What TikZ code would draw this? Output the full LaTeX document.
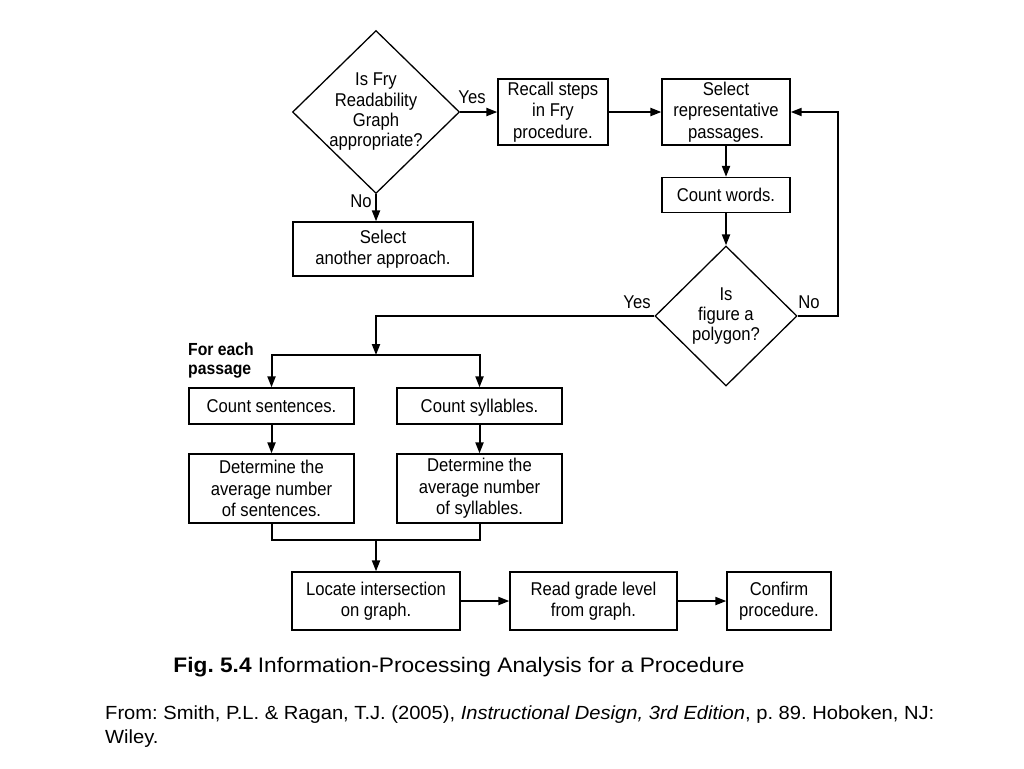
\documentclass[tikz,border=0pt]{standalone}
\usepackage{fontspec}
\setmainfont{Liberation Sans}
\newfontfamily\diag[FakeStretch=0.9]{Liberation Sans}
\newfontfamily\capfont[FakeStretch=1.08]{Liberation Sans}
\newfontfamily\srcfont[FakeStretch=1.06]{Liberation Sans}
\usetikzlibrary{arrows.meta,shapes.geometric}
\begin{document}
\frenchspacing
\begin{tikzpicture}[x=1pt,y=-1pt,
  txt/.style={font=\diag\fontsize{18.5}{21.5}\selectfont, align=center},
  box/.style={txt, draw, line width=1.3pt, inner sep=0pt},
  onel/.style={text height=15.5pt, text depth=2.5pt},
  dia/.style={txt, font=\diag\fontsize{18.5}{20.3}\selectfont, draw, line width=1.3pt, diamond, inner sep=-6pt},
  conn/.style={line width=2pt},
  arr/.style={conn, -{Triangle[length=11pt,width=8pt]}},
  lbl/.style={txt, inner sep=1pt}]
\useasboundingbox (0,0) rectangle (1024,768);
\fill[white] (0,0) rectangle (1024,768);

\node[dia, minimum width=167pt, minimum height=163pt] (d1) at (376,112) {Is Fry\\Readability\\Graph\\appropriate?};
\node[box, minimum width=110pt, minimum height=66pt] (recall) at (553,112) {Recall steps\\in Fry\\procedure.};
\node[box, minimum width=128pt, minimum height=66pt] (select) at (726,112) {Select\\representative\\passages.};
\node[box, onel, minimum width=128pt, minimum height=35pt] (count) at (726,195) {Count words.};
\node[dia, minimum width=142pt, minimum height=140pt] (d2) at (726,316) {Is\\figure a\\polygon?};
\node[box, minimum width=180pt, minimum height=54pt] (another) at (383,249) {Select\\another approach.};
\node[box, onel, minimum width=165pt, minimum height=36pt] (csent) at (271.5,406) {Count sentences.};
\node[box, onel, minimum width=165pt, minimum height=36pt] (csyl) at (479.5,406) {Count syllables.};
\node[box, minimum width=165pt, minimum height=69pt] (dsent) at (271.5,488.5) {Determine the\\average number\\of sentences.};
\node[box, minimum width=165pt, minimum height=69pt] (dsyl) at (479.5,488.5) {Determine the\\average number\\of syllables.};
\node[box, minimum width=168pt, minimum height=58pt] (locate) at (376,601) {Locate intersection\\on graph.};
\node[box, minimum width=167pt, minimum height=58pt] (read) at (593.5,601) {Read grade level\\from graph.};
\node[box, minimum width=104pt, minimum height=58pt] (confirm) at (779,601) {Confirm\\procedure.};

\node[txt, font=\diag\bfseries\fontsize{17.5}{18.5}\selectfont, align=left, anchor=north west, inner sep=0pt] (foreach) at (188,343) {For each\\passage};

\coordinate (loop) at (838,316);
\coordinate (yturn) at (376,316);
\coordinate (split) at (376,355);
\coordinate (join) at (376,540);

\draw[arr] (d1.east) -- (recall.west);
\node[lbl] (yes1) at (472,97) {Yes};
\draw[arr] (d1.south) -- (d1.south |- another.north);
\node[lbl] (no1) at (361,201) {No};
\draw[arr] (recall.east) -- (select.west);
\draw[arr] (select.south) -- (count.north);
\draw[arr] (count.south) -- (d2.north);
\draw[arr] (d2.east) -- (loop) |- (select.east);
\node[lbl] (no2) at (809,302) {No};
\draw[arr] (d2.west) -- (yturn) -- (split);
\node[lbl] (yes2) at (637,302) {Yes};
\draw[arr] (split) -| (csent.north);
\draw[arr] (split) -| (csyl.north);
\draw[arr] (csent.south) -- (dsent.north);
\draw[arr] (csyl.south) -- (dsyl.north);
\draw[conn] (dsent.south) |- (join) -| (dsyl.south);
\draw[arr] (join) -- (locate.north);
\draw[arr] (locate.east) -- (read.west);
\draw[arr] (read.east) -- (confirm.west);

\node[font=\capfont\fontsize{21}{24}\selectfont, inner sep=0pt] (caption) at (459,667) {\textbf{Fig. 5.4} Information-Processing Analysis for a Procedure};
\node[font=\srcfont\fontsize{19}{24}\selectfont, align=left, anchor=north west, inner sep=0pt] (source) at (105,706) {From: Smith, P.L. \& Ragan, T.J. (2005), \textit{Instructional Design, 3rd Edition}, p. 89. Hoboken, NJ:\\Wiley.};
\end{tikzpicture}
\end{document}
